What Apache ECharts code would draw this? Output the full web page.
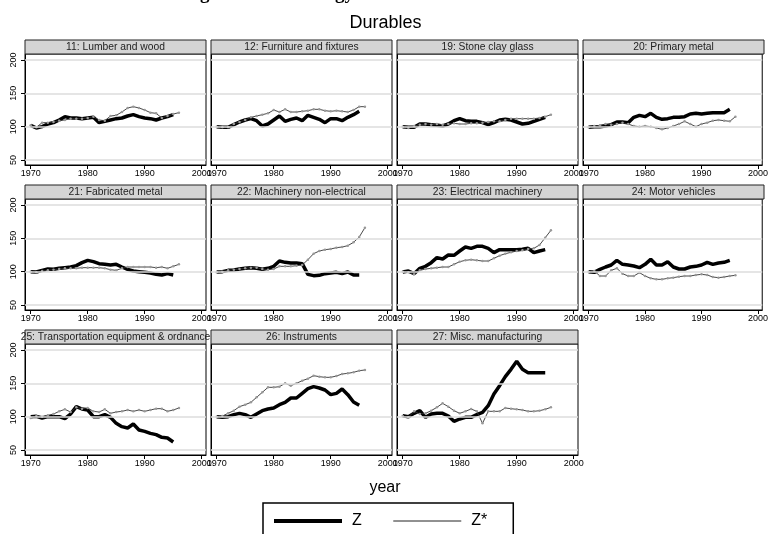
<!DOCTYPE html>
<html><head><meta charset="utf-8">
<script src="https://cdn.jsdelivr.net/npm/echarts@6/dist/echarts.min.js"></script>
<style>html,body{margin:0;padding:0;background:#fff}#c{width:771px;height:534px}</style>
</head><body><div id="c"></div>
<script>
const years = [1970,1971,1972,1973,1974,1975,1976,1977,1978,1979,1980,1981,1982,1983,1984,1985,1986,1987,1988,1989,1990,1991,1992,1993,1994,1995,1996];
const panelTitles = ["11: Lumber and wood","12: Furniture and fixtures","19: Stone clay glass","20: Primary metal","21: Fabricated metal","22: Machinery non-electrical","23: Electrical machinery","24: Motor vehicles","25: Transportation equipment & ordnance","26: Instruments","27: Misc. manufacturing"];
const yTicks = [50,100,150,200];
const xTicks = [1970,1980,1990,2000];

const z11  = [102,98,100,104,106,110,115,113,113,112,113,114,106,108,110,112,113,116,118,115,113,112,110,113,115,118];
const zs11 = [102,99,106,106,107,109,110,112,112,112,113,115,110,109,116,117,122,128,130,128,125,121,120,113,116,119,121];
const z12  = [100,99,99,103,107,110,112,109,101,104,110,116,108,111,113,109,117,114,111,106,112,112,109,114,118,123];
const zs12 = [100,99,99,104,107,110,114,116,118,120,125,122,126,122,122,123,124,126,126,124,123,124,123,122,125,130,130];
const z19  = [100,99,99,104,104,103,102,101,104,109,112,109,108,108,106,103,106,110,111,110,107,104,105,108,111,114];
const zs19 = [100,98,101,103,104,103,104,103,104,105,104,104,105,105,106,107,108,108,110,112,112,112,112,112,113,115,118];
const z20  = [99,100,100,101,103,107,107,106,114,117,115,120,114,111,112,114,114,115,119,120,119,120,121,121,121,126];
const zs20 = [99,101,102,104,103,104,106,104,101,100,101,100,98,96,98,101,104,108,104,100,104,106,109,110,109,108,115];
const z21  = [100,99.5,102,104,103.5,105,106,107,109,113.5,117,115,112,111,110,111,107,103.5,101,100,99,98,96,95,97,95];
const zs21 = [100,99,101,102,103,104,105,105,105,106,106,106,106,105,103,102,105,107,107,107,107,107,106,107,105,108,111];
const z22  = [99.5,100,102,102.5,104,105,106,105,103.5,105,108,116,114,113,113,112,96,94,94.5,97,98,99,97,99.5,95,95];
const zs22 = [99,100,102,103,104,105,106,106,104,103,104,108,108,108,109,110,118,127,131,133,134,136,137,139,144,152,166];
const z23  = [99.5,101,97,105,108,113.5,121,119,125,124.5,131,137,135,138,138,135,128.5,133,133,133,133,133.5,135,128.5,131,133];
const zs23 = [100,99,96,102,104,105,106,107,107,111,115,117,118,117,116,116,120,124,127,129,131,132,134,135,140,151,162];
const z24  = [100,99,103.5,107,110,117,111,110,108.5,106,111,118.5,110,110,115,107,104,104,107,108,110,114,111,113,114,117];
const zs24 = [100,101,93.5,93.5,102,105,97,93.5,93.5,98.5,93.5,90,88.5,88.5,90,91,92.5,93.5,93.5,95,96,95,92,91,92,93.5,94.5];
const z25  = [100,100.5,98,100,100,100,97,104,115,111.5,110,100,100,103,99,90,85,83,89,80,78,75,73,69,68,62];
const zs25 = [98,101,100,102,104,108,111,107,114,112,113,108,107,111,105,107,108,110,108,110,108,110,112,112,108,110,113];
const z26  = [100,99,100,103,105,103,99,104,109,111.5,113,118,121.5,128,128,135,142,145,143,140,133,135,141.5,133,122,117];
const zs26 = [100,101,105,109,115,118,121.5,129,136.5,144,144,145,150,146.5,150,154,157,161.5,160,159,159,161,164,165,166.5,169,170];
const z27  = [101.5,100,105,109,99,104,105,105,101,93,96.5,99,99,103,106.5,116.5,134,146.5,160,171,183,171,166,166,166,166];
const zs27 = [101,99,108,104,105,109,114,120,115,109,105,108,111.5,108,90,108,108,108,113,112,111,110,108,108,109,111,114];

const zList  = [z11,z12,z19,z20,z21,z22,z23,z24,z25,z26,z27];
const zsList = [zs11,zs12,zs19,zs20,zs21,zs22,zs23,zs24,zs25,zs26,zs27];

const FONT = 'Liberation Sans, Arial, sans-serif';
const colLeft = [25,211,397,583], colW = 181;
const rowTop = [40,185,330], headerH = 14, plotH = 111;

const grids=[], xAxes=[], yAxes=[], series=[], graphics=[];
const pairs = arr => arr.map((v,j)=>[years[j], v]);

panelTitles.forEach((t,i)=>{
  const col = i%4, row = Math.floor(i/4);
  const left = colLeft[col], top = rowTop[row];
  grids.push({left:left, top:top+headerH, width:colW, height:plotH, show:true, borderColor:'#000', borderWidth:1, backgroundColor:'#fff'});
  xAxes.push({type:'value', gridIndex:i, min:1969, max:2000.75,
    axisLine:{show:true, onZero:false, lineStyle:{color:'#000', width:1}},
    axisTick:{show:true, customValues:xTicks, length:4, lineStyle:{color:'#000'}},
    axisLabel:{customValues:xTicks, formatter:v=>String(v), fontSize:9, color:'#000', fontFamily:FONT, margin:4},
    splitLine:{show:false}});
  yAxes.push({type:'value', gridIndex:i, min:42.5, max:209,
    axisLine:{show:true, onZero:false, lineStyle:{color:'#000', width:1}},
    axisTick:{show:col===0, customValues:yTicks, length:4, lineStyle:{color:'#000'}},
    axisLabel:{show:col===0, customValues:yTicks, formatter:v=>String(v), rotate:90, fontSize:9, color:'#000', fontFamily:FONT, margin:7},
    splitLine:{show:false}});
  series.push({type:'line', name:'gridlines', xAxisIndex:i, yAxisIndex:i, data:[], z:1, silent:true,
    markLine:{silent:true, symbol:'none', animation:false, label:{show:false},
      lineStyle:{color:'#dcdcdc', width:1.5, type:'solid'},
      data: yTicks.map(v=>({yAxis:v}))}});
  series.push({type:'line', name:'Z', xAxisIndex:i, yAxisIndex:i, data:pairs(zList[i]), z:3,
    symbol:'none', lineStyle:{color:'#000', width:3.5}, itemStyle:{color:'#000'}, animation:false});
  series.push({type:'line', name:'Z*', xAxisIndex:i, yAxisIndex:i, data:pairs(zsList[i]), z:4,
    symbol:'circle', symbolSize:2.5, showSymbol:true, lineStyle:{color:'#333', width:0.9},
    itemStyle:{color:'#999', borderWidth:0}, animation:false});
  graphics.push({type:'rect', shape:{x:left, y:top, width:colW, height:headerH},
    style:{fill:'#d4d4d4', stroke:'#222', lineWidth:1}, z:10});
  graphics.push({type:'text', x:left+colW/2, y:top+headerH/2+0.5,
    style:{text:t, fill:'#222', font:'10.3px '+FONT, textAlign:'center', textVerticalAlign:'middle'}, z:11});
});

graphics.push({type:'text', x:385, y:488, style:{text:'year', fill:'#000', font:'16px '+FONT, textAlign:'center', textVerticalAlign:'middle'}});
graphics.push({type:'text', x:183, y:-6, style:{text:'Figure 5: Technology', fill:'#000', font:'bold 19px Liberation Serif, serif', textAlign:'left', textVerticalAlign:'middle'}});

const chart = echarts.init(document.getElementById('c'), null, {renderer:'canvas'});
chart.setOption({
  animation:false,
  backgroundColor:'#fff',
  title:{text:'Durables', left:'center', top:9, textStyle:{fontSize:18, fontWeight:'normal', color:'#000', fontFamily:FONT}},
  legend:{data:[
      {name:'Z', itemStyle:{opacity:0}, lineStyle:{width:4, color:'#000'}},
      {name:'Z*', itemStyle:{opacity:0}, lineStyle:{width:1, color:'#222'}}],
    left:263, top:503, itemWidth:68, itemHeight:12, itemGap:31,
    borderColor:'#000', borderWidth:1.5, padding:[10,26,12,9],
    textStyle:{fontSize:16, color:'#000', fontFamily:FONT, padding:[0,0,0,5]}},
  grid:grids, xAxis:xAxes, yAxis:yAxes, series:series, graphic:graphics
});
</script></body></html>
